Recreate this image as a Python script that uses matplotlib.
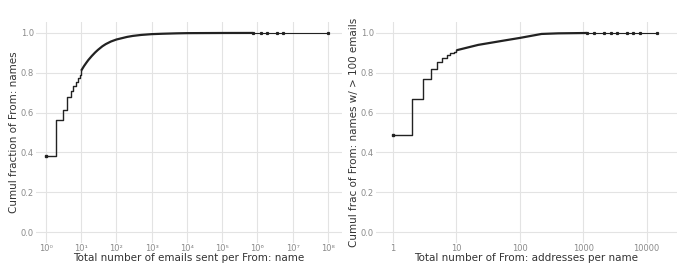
import matplotlib.pyplot as plt

# left panel: emails sent per From: name (cumulative fraction)
# step part (integer counts)
emails_step_x = [1, 2, 3, 4, 5, 6, 7, 8, 9, 10]
emails_step_y = [0.383, 0.564, 0.614, 0.68, 0.71, 0.735, 0.755, 0.775, 0.79, 0.81]
# dense part of the curve
emails_curve_x = [10, 12, 14, 16, 20, 25, 30, 40, 50, 70, 100, 200, 290, 500, 1000,
                  2000, 5000, 1e4, 1e5, 7.4e5]
emails_curve_y = [0.81, 0.833, 0.85, 0.864, 0.884, 0.902, 0.915, 0.933, 0.944, 0.957,
                  0.967, 0.98, 0.985, 0.99, 0.994, 0.996, 0.998, 0.999, 0.9998, 1.0]
# isolated points in the tail
emails_tail_x = [7.4e5, 1.3e6, 1.9e6, 3.6e6, 5.3e6, 1e8]
emails_tail_y = [1.0, 1.0, 1.0, 1.0, 1.0, 1.0]

# right panel: From: addresses per name (names with > 100 emails)
addr_step_x = [1, 2, 3, 4, 5, 6, 7, 8, 9, 10]
addr_step_y = [0.486, 0.668, 0.767, 0.821, 0.852, 0.873, 0.89, 0.897, 0.905, 0.913]
addr_curve_x = [10, 22, 59, 100, 220, 400, 1000, 1140]
addr_curve_y = [0.913, 0.94, 0.963, 0.975, 0.995, 0.998, 0.9995, 1.0]
addr_tail_x = [1140, 1500, 2100, 2700, 3400, 4900, 6000, 8000, 14400]
addr_tail_y = [1.0, 1.0, 1.0, 1.0, 1.0, 1.0, 1.0, 1.0, 1.0]

left_ticks = [10.0 ** k for k in range(9)]
left_labels = ['10\u2070', '10\u00b9', '10\u00b2', '10\u00b3', '10\u2074',
               '10\u2075', '10\u2076', '10\u2077', '10\u2078']
right_ticks = [1, 10, 100, 1000, 10000]
right_labels = ['1', '10', '100', '1000', '10000']

fig = plt.figure(figsize=(6.9, 2.68), dpi=100)
ax1 = fig.add_axes([36 / 690, 1 - 243 / 268, 306 / 690, 221 / 268])
ax2 = fig.add_axes([376 / 690, 1 - 243 / 268, 301 / 690, 221 / 268])

grid_col = '#e3e3e3'
text_col = '#8a8a8a'
line_col = '#222222'


def style(ax, ticks, labels, xlim):
    ax.set_xscale('log')
    ax.set_xlim(*xlim)
    ax.set_ylim(-0.055, 1.055)
    ax.set_xticks(ticks)
    ax.set_xticklabels(labels)
    ax.minorticks_off()
    ax.set_yticks([0.0, 0.2, 0.4, 0.6, 0.8, 1.0])
    ax.set_yticklabels(['0.0', '0.2', '0.4', '0.6', '0.8', '1.0'])
    ax.grid(True, color=grid_col, linewidth=0.8)
    ax.set_axisbelow(True)
    for s in ax.spines.values():
        s.set_visible(False)
    ax.tick_params(axis='y', length=0, labelsize=6, labelcolor=text_col, pad=1.5)
    ax.tick_params(axis='x', length=0, labelsize=6, labelcolor=text_col, pad=1)


def draw(ax, sx, sy, cx, cy, tx, ty):
    ax.step(sx, sy, where='post', color=line_col, linewidth=1.0)
    ax.plot([sx[0]], [sy[0]], 's', color=line_col, markersize=1.5)
    ax.plot(cx, cy, color=line_col, linewidth=1.6, solid_capstyle='butt')
    ax.plot(tx, ty, color=line_col, linewidth=0.8)
    ax.plot(tx, ty, 's', color=line_col, markersize=1.3)


draw(ax1, emails_step_x, emails_step_y, emails_curve_x, emails_curve_y,
     emails_tail_x, emails_tail_y)
style(ax1, left_ticks, left_labels, (10 ** -0.28, 10 ** 8.4))
ax1.set_xlabel('Total number of emails sent per From: name', fontsize=7.5,
               color='#333333', labelpad=0)
ax1.set_ylabel('Cumul fraction of From: names', fontsize=7.5, color='#333333', labelpad=1.5)

draw(ax2, addr_step_x, addr_step_y, addr_curve_x, addr_curve_y, addr_tail_x, addr_tail_y)
style(ax2, right_ticks, right_labels, (10 ** -0.27, 10 ** 4.48))
ax2.set_xlabel('Total number of From: addresses per name', fontsize=7.5,
               color='#333333', labelpad=0)
ax2.set_ylabel('Cumul frac of From: names w/ > 100 emails', fontsize=7.5,
               color='#333333', labelpad=1.5)

fig.savefig('out.png', dpi=100, facecolor='white')
